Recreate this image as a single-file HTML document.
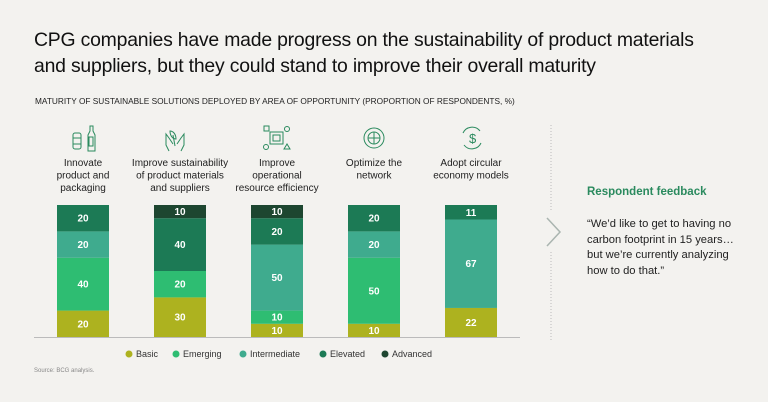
<!DOCTYPE html>
<html><head><meta charset="utf-8"><style>
body{margin:0;background:#f3f2ef;font-family:"Liberation Sans",sans-serif;}
#page{position:relative;width:768px;height:402px;overflow:hidden;background:#f3f2ef;}
.title{position:absolute;left:34px;top:27px;font-size:19.4px;line-height:26px;color:#111;letter-spacing:-0.2px;}
.sub{position:absolute;left:35px;top:96px;font-size:8.3px;color:#222;}
.src{position:absolute;left:34px;top:368px;font-size:6px;color:#888;}
.fbh{position:absolute;left:587px;top:186px;font-size:11.5px;font-weight:bold;color:#2a8a5e;}
.quote{position:absolute;left:587px;top:217px;font-size:11.2px;line-height:15.5px;color:#222;white-space:nowrap;}
</style></head><body>
<div id="page">
<div class="title">CPG companies have made progress on the sustainability of product materials<br>and suppliers, but they could stand to improve their overall maturity</div>
<div class="sub">MATURITY OF SUSTAINABLE SOLUTIONS DEPLOYED BY AREA OF OPPORTUNITY (PROPORTION OF RESPONDENTS, %)</div>
<svg id="chart" width="768" height="402" style="position:absolute;left:0;top:0">
<g fill="none" stroke="#2a8a5e" stroke-width="1">
 <g><rect x="73" y="133" width="8" height="16" rx="2"/><line x1="73" y1="138" x2="81" y2="138"/><line x1="73" y1="144" x2="81" y2="144"/><path d="M88 151v-16l2-4v-5h3v5l2 4v16z"/><rect x="89" y="137" width="4" height="9"/></g>
 <g><path d="M170 131c0 5 3 8 6 8 0-5-3-8-6-8z"/><line x1="173" y1="135" x2="175" y2="146"/><path d="M169 151l-3-6v-11l3 4 4 6"/><path d="M181 151l3-6v-11l-3 4-4 6"/></g>
 <g><rect x="270" y="132" width="13" height="12"/><rect x="273" y="135" width="7" height="6"/><rect x="264" y="126" width="5" height="5"/><circle cx="287" cy="129" r="2.5"/><circle cx="266" cy="147" r="2.5"/><path d="M284 149l3-5 3 5z"/></g>
 <g><circle cx="374" cy="138" r="10"/><circle cx="374" cy="138" r="6"/><line x1="368" y1="138" x2="380" y2="138"/><line x1="374" y1="132" x2="374" y2="144"/></g>
 <g><path d="M463 133a10 10 0 0 1 17 -2"/><path d="M481 143a10 10 0 0 1 -17 2"/><text x="469" y="143" font-size="13" fill="#2a8a5e" stroke="none" font-family="Liberation Sans">$</text></g>
</g>
<g id="labels" font-size="10" fill="#222" text-anchor="middle"></g>
<g id="bars"></g>
<line x1="34" y1="337.5" x2="520" y2="337.5" stroke="#bbb"/>
<g id="legend" font-size="9" fill="#333"></g>
<line x1="551" y1="125" x2="551" y2="210" stroke="#bbb" stroke-dasharray="1,2"/>
<line x1="551" y1="252" x2="551" y2="340" stroke="#bbb" stroke-dasharray="1,2"/>
<path d="M547 218l13 14-13 14" fill="none" stroke="#aab5b0" stroke-width="1.5"/>
</svg>
<div class="fbh">Respondent feedback</div>
<div class="quote">“We’d like to get to having no<br>carbon footprint in 15 years…<br>but we’re currently analyzing<br>how to do that.”</div>
<div class="src">Source: BCG analysis.</div>
</div>
<script>
const categories=[["Innovate","product and","packaging"],["Improve sustainability","of product materials","and suppliers"],["Improve","operational","resource efficiency"],["Optimize the","network"],["Adopt circular","economy models"]];
const seriesNames=["Basic","Emerging","Intermediate","Elevated","Advanced"];
const basic=[20,30,10,10,22];
const emerging=[40,20,10,50,0];
const intermediate=[20,0,50,20,67];
const elevated=[20,40,20,20,11];
const advanced=[0,10,10,0,0];
const colors=["#adb21f","#2ebd72","#3fab8e","#1c7a55","#1d4630"];
const series=[basic,emerging,intermediate,elevated,advanced];
const NS="http://www.w3.org/2000/svg";
const baseY=337,plotH=132,x0=57,step=97,bw=52;
const y=v=>plotH*v/100;
const xC=i=>x0+i*step;
const bars=document.getElementById('bars'),labels=document.getElementById('labels'),legend=document.getElementById('legend');
categories.forEach((c,i)=>{
 c.forEach((ln,j)=>{const t=document.createElementNS(NS,'text');
  
  
  t.setAttribute('x',xC(i)+bw/2);t.setAttribute('y',166+j*12.5);t.textContent=ln;labels.appendChild(t);});
 let acc=0;
 series.forEach((s,k)=>{const v=s[i];if(!v)return;
  const r=document.createElementNS(NS,'rect');
  
  
  const top=baseY-y(acc+v);
  r.setAttribute('x',xC(i));r.setAttribute('y',top);r.setAttribute('width',bw);r.setAttribute('height',y(v));r.setAttribute('fill',colors[k]);bars.appendChild(r);
  const t=document.createElementNS(NS,'text');
  
  
  t.setAttribute('x',xC(i)+bw/2);t.setAttribute('y',top+y(v)/2+3.5);t.setAttribute('text-anchor','middle');t.setAttribute('font-size','10');t.setAttribute('font-weight','bold');t.setAttribute('fill','#fff');t.textContent=v;bars.appendChild(t);
  acc+=v;});
});
const lx=[129,176,243,323,385];
seriesNames.forEach((n,k)=>{
 const g=document.createElementNS(NS,'g');
 
 
 const c=document.createElementNS(NS,'circle');c.setAttribute('cx',lx[k]);c.setAttribute('cy',354);c.setAttribute('r',3.5);c.setAttribute('fill',colors[k]);g.appendChild(c);
 const t=document.createElementNS(NS,'text');t.setAttribute('x',lx[k]+7);t.setAttribute('y',357);t.textContent=n;g.appendChild(t);
 legend.appendChild(g);
});
</script>
</body></html>
